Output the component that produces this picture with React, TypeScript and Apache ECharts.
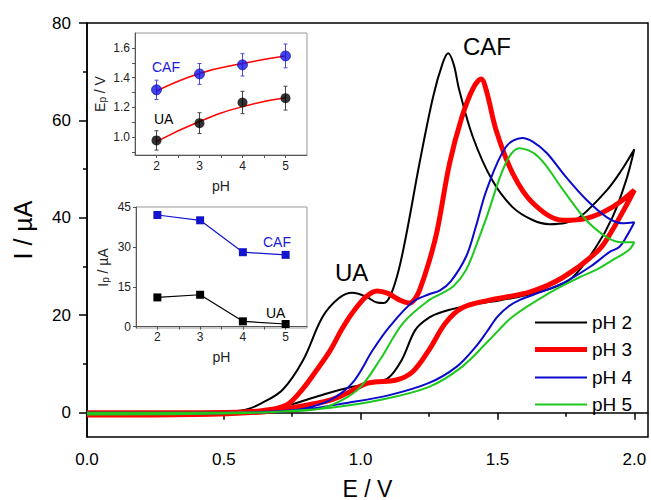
import { useEffect, useRef } from 'react';
import * as echarts from 'echarts';

// ---------- main CV data: [E / V, I / µA], forward scan then reverse scan ----------
const cvPH2: number[][] = [
  [0, 0], [0.3, 0.1], [0.5, 0.2], [0.58, 0.6], [0.64, 2], [0.715, 4.7], [0.79, 10.8], [0.86, 19.6],
  [0.92, 23.5], [0.97, 24.6], [1.02, 23.8], [1.06, 22.6], [1.085, 22.5], [1.11, 24.2], [1.14, 29.5],
  [1.17, 37.5], [1.215, 51.2], [1.265, 64.9], [1.30, 71.8], [1.32, 73.8], [1.34, 71.5], [1.36, 66.3],
  [1.41, 56.6], [1.48, 47.8], [1.555, 42.2], [1.63, 39.5], [1.69, 38.7], [1.75, 39], [1.80, 40.1],
  [1.90, 45.7], [1.95, 49.5], [2.0, 54.1],
  [1.97, 47.7], [1.92, 40.1], [1.86, 34], [1.775, 27.8], [1.70, 25.6], [1.58, 23.8], [1.48, 22.8],
  [1.40, 22.1], [1.30, 20.7], [1.25, 19.5], [1.20, 17], [1.15, 10.8], [1.10, 7.1], [1.03, 6],
  [0.97, 5.3], [0.88, 4], [0.80, 2.6], [0.74, 1.6], [0.65, 0.4], [0.55, 0], [0.3, -0.2], [0, -0.3]
];
const cvPH3: number[][] = [
  [0, 0], [0.3, 0], [0.55, 0.1], [0.65, 0.5], [0.73, 1.6], [0.79, 5], [0.84, 8.8], [0.89, 12.9],
  [0.93, 17], [0.97, 20.5], [1.02, 23.8], [1.06, 25], [1.10, 24.5], [1.14, 23.2], [1.18, 22.5],
  [1.20, 23.5], [1.215, 25.1], [1.25, 31], [1.28, 37.5], [1.325, 51.2], [1.37, 60.7], [1.41, 66.5],
  [1.44, 68.5], [1.46, 66], [1.495, 58], [1.555, 49.2], [1.63, 43], [1.74, 39.5], [1.825, 39.9],
  [1.92, 42.2], [2.0, 45.7],
  [1.975, 43], [1.92, 37.5], [1.87, 33.4], [1.74, 27.8], [1.62, 24.8], [1.47, 23.1], [1.37, 21.5],
  [1.31, 18.4], [1.25, 12.9], [1.19, 8.4], [1.13, 6.7], [1.03, 6.1], [0.95, 4], [0.89, 2.6],
  [0.77, 1.2], [0.65, 0.2], [0.4, -0.4], [0, -0.5]
];
const cvPH4: number[][] = [
  [0, 0], [0.5, 0], [0.7, 0.3], [0.8, 0.9], [0.89, 2.6], [0.97, 6.1], [1.045, 12.9], [1.105, 17.6],
  [1.19, 22.7], [1.25, 24.3], [1.29, 25.1], [1.33, 27], [1.385, 32], [1.42, 38], [1.46, 45.7],
  [1.53, 54.5], [1.59, 56.4], [1.63, 55.6], [1.68, 53.3], [1.75, 48.4], [1.825, 43.7], [1.90, 40.1],
  [1.955, 38.9], [2.0, 39.1],
  [1.975, 36.5], [1.945, 34], [1.91, 33], [1.84, 30], [1.74, 26.6], [1.66, 24.8], [1.58, 23.1],
  [1.54, 21.8], [1.50, 19.7], [1.46, 16.5], [1.42, 13.5], [1.35, 9.4], [1.25, 6.1], [1.105, 3.6],
  [0.95, 2], [0.77, 0.5], [0.6, 0], [0, -0.3]
];
const cvPH5: number[][] = [
  [0, 0], [0.5, 0], [0.7, 0.2], [0.85, 0.8], [0.93, 2.5], [1.0, 5.3], [1.07, 10.8], [1.155, 18.4],
  [1.25, 23.1], [1.30, 24.6], [1.34, 26], [1.385, 29.3], [1.42, 34], [1.46, 40.1], [1.53, 51.2],
  [1.58, 54.3], [1.65, 52.5], [1.74, 45.7], [1.825, 39.5], [1.90, 36], [1.955, 35], [2.0, 35],
  [1.98, 33.4], [1.92, 31.3], [1.86, 29.3], [1.80, 27.8], [1.69, 24.6], [1.555, 19.7], [1.47, 14.9],
  [1.37, 9.4], [1.25, 5.3], [1.07, 2.6], [0.89, 1.0], [0.7, 0.2], [0.5, -0.2], [0, -0.4]
];
const seriesNames = ['pH 2', 'pH 3', 'pH 4', 'pH 5'];

// ---------- inset data ----------
const pHValues = [2, 3, 4, 5];
const epCAF = [1.318, 1.425, 1.486, 1.546];
const epUA = [0.978, 1.094, 1.233, 1.262];
const epErr = [0.065, 0.07, 0.075, 0.08];
const epFitCAF = [1.31, 1.428, 1.495, 1.545];
const epFitUA = [0.97, 1.105, 1.205, 1.265];
const ipCAF = [42, 40, 28, 27];
const ipUA = [11, 12, 2, 1];

// ---------- tick values ----------
const mainXTicks = [0, 0.5, 1, 1.5, 2];
const mainXMinor = [0.25, 0.75, 1.25, 1.75];
const mainYTicks = [0, 20, 40, 60, 80];
const mainYMinor = [10, 30, 50, 70];
const epTicks = [1.0, 1.2, 1.4, 1.6];
const epAllTicks = [0.9, 1.0, 1.1, 1.2, 1.3, 1.4, 1.5, 1.6];
const ipTicks = [0, 15, 30, 45];
const pHTicks = [2, 3, 4, 5];
const pHAllTicks = [2, 2.5, 3, 3.5, 4, 4.5, 5];

const FONT = '"Liberation Sans", Arial, sans-serif';

function errBar(color: string) {
  return (params: any, api: any) => {
    const x = api.value(0);
    const y = api.value(1);
    const e = api.value(2);
    const t = api.coord([x, y + e]);
    const b = api.coord([x, y - e]);
    const st = { stroke: color, lineWidth: 1 };
    return {
      type: 'group',
      children: [
        { type: 'line', shape: { x1: t[0], y1: t[1], x2: b[0], y2: b[1] }, style: st },
        { type: 'line', shape: { x1: t[0] - 2, y1: t[1], x2: t[0] + 2, y2: t[1] }, style: st },
        { type: 'line', shape: { x1: b[0] - 2, y1: b[1], x2: b[0] + 2, y2: b[1] }, style: st }
      ]
    };
  };
}

export default function App() {
  const ref = useRef<HTMLDivElement>(null);
  useEffect(() => {
    if (!ref.current) return;
    const chart = echarts.init(ref.current, null, { renderer: 'svg' });
    const colors = ['#000000', '#ff0000', '#0a0acc', '#1ec81e'];
    const widths = [2, 5, 2, 2];
    const cvData = [cvPH2, cvPH3, cvPH4, cvPH5];
    const legendTops = [313, 340, 368, 395];

    const insetAxisLabel = { color: '#222', fontSize: 12, fontFamily: FONT };
    const insetAxisLine = { lineStyle: { color: '#555', width: 1 } };
    const subRich = {
      s: { fontSize: 10, color: '#222', fontFamily: FONT, padding: [8, 0, 0, 0], verticalAlign: 'bottom', lineHeight: 10 }
    };

    const option: any = {
      animation: false,
      backgroundColor: '#fff',
      textStyle: { fontFamily: FONT },
      grid: [
        { left: 87, top: 23, right: 3, bottom: 63, outerBoundsMode: 'none', containLabel: false, show: true, borderColor: '#000', borderWidth: 1.5, backgroundColor: 'transparent' },
        { left: 135, top: 33, right: 344, bottom: 345, outerBoundsMode: 'none', containLabel: false, show: true, borderColor: '#999', borderWidth: 1, backgroundColor: '#fff' },
        { left: 136, top: 207, right: 344, bottom: 172, outerBoundsMode: 'none', containLabel: false, show: true, borderColor: '#999', borderWidth: 1, backgroundColor: '#fff' }
      ],
      xAxis: [
        {
          gridIndex: 0, type: 'value', min: 0, max: 2.05,
          name: 'E / V', nameLocation: 'middle', nameGap: 40,
          nameTextStyle: { fontSize: 23, color: '#000', fontFamily: FONT },
          axisLine: { show: true, lineStyle: { color: '#000', width: 1.5 } },
          axisTick: { show: true, inside: false, length: 7, customValues: mainXTicks, lineStyle: { color: '#000', width: 1.5 } },
          axisLabel: { customValues: mainXTicks, formatter: (v: number) => v.toFixed(1), fontSize: 17, color: '#000', margin: 14, fontFamily: FONT },
          splitLine: { show: false }
        },
        {
          gridIndex: 0, type: 'value', min: 0, max: 2.05, position: 'bottom',
          axisLine: { show: false },
          axisTick: { show: true, inside: false, length: 4, customValues: mainXMinor, lineStyle: { color: '#000', width: 1.5 } },
          axisLabel: { show: false }, splitLine: { show: false }
        },
        {
          gridIndex: 1, type: 'value', min: 1.5, max: 5.5,
          name: 'pH', nameLocation: 'middle', nameGap: 24,
          nameTextStyle: { fontSize: 14, color: '#222', fontFamily: FONT },
          axisLine: insetAxisLine,
          axisTick: { show: true, inside: false, length: 3, customValues: pHAllTicks, lineStyle: { color: '#555' } },
          axisLabel: { ...insetAxisLabel, customValues: pHTicks, margin: 5 },
          splitLine: { show: false }
        },
        {
          gridIndex: 2, type: 'value', min: 1.5, max: 5.5,
          name: 'pH', nameLocation: 'middle', nameGap: 22,
          nameTextStyle: { fontSize: 14, color: '#222', fontFamily: FONT },
          axisLine: insetAxisLine,
          axisTick: { show: true, inside: false, length: 3, customValues: pHAllTicks, lineStyle: { color: '#555' } },
          axisLabel: { ...insetAxisLabel, customValues: pHTicks, margin: 3 },
          splitLine: { show: false }
        }
      ],
      yAxis: [
        {
          gridIndex: 0, type: 'value', min: -5, max: 80,
          name: 'I / µA', nameLocation: 'middle', nameGap: 52,
          nameTextStyle: { fontSize: 25, color: '#000', fontFamily: FONT },
          axisLine: { show: true, lineStyle: { color: '#000', width: 1.5 } },
          axisTick: { show: true, inside: false, length: 8, customValues: mainYTicks, lineStyle: { color: '#000', width: 1.5 } },
          axisLabel: { customValues: mainYTicks, fontSize: 17, color: '#000', margin: 16, fontFamily: FONT },
          splitLine: { show: false }
        },
        {
          gridIndex: 0, type: 'value', min: -5, max: 80, position: 'left',
          axisLine: { show: false },
          axisTick: { show: true, inside: false, length: 4, customValues: mainYMinor, lineStyle: { color: '#000', width: 1.5 } },
          axisLabel: { show: false }, splitLine: { show: false }
        },
        {
          gridIndex: 1, type: 'value', min: 0.88, max: 1.7,
          name: 'E{s|p} / V', nameLocation: 'middle', nameGap: 28,
          nameTextStyle: { fontSize: 14, color: '#222', fontFamily: FONT, rich: subRich },
          axisLine: insetAxisLine,
          axisTick: { show: true, inside: false, length: 3, customValues: epAllTicks, lineStyle: { color: '#555' } },
          axisLabel: { ...insetAxisLabel, customValues: epTicks, formatter: (v: number) => v.toFixed(1), margin: 5 },
          splitLine: { show: false }
        },
        {
          gridIndex: 2, type: 'value', min: -0.5, max: 45,
          name: 'I{s|p} / µA', nameLocation: 'middle', nameGap: 26,
          nameTextStyle: { fontSize: 14, color: '#222', fontFamily: FONT, rich: subRich },
          axisLine: insetAxisLine,
          axisTick: { show: true, inside: false, length: 3, customValues: ipTicks, lineStyle: { color: '#555' } },
          axisLabel: { ...insetAxisLabel, customValues: ipTicks, margin: 5 },
          splitLine: { show: false }
        }
      ],
      legend: seriesNames.map((n, i) => ({
        data: [n], left: 535, top: legendTops[i], orient: 'vertical', padding: 0,
        icon: 'rect', itemWidth: 52, itemHeight: widths[i] === 5 ? 5 : 2,
        textStyle: { fontSize: 19, color: '#000', fontFamily: FONT },
        selectedMode: false
      })),
      series: [
        ...cvData.map((d, i) => ({
          name: seriesNames[i], type: 'line', xAxisIndex: 0, yAxisIndex: 0,
          data: d, smooth: 0.35, showSymbol: false, symbol: 'none',
          lineStyle: { color: colors[i], width: widths[i] }, itemStyle: { color: colors[i] },
          z: 2 + i
        })),
        {
          type: 'line', xAxisIndex: 2, yAxisIndex: 2, data: pHValues.map((p, i) => [p, epFitCAF[i]]),
          smooth: true, showSymbol: false, lineStyle: { color: '#ff0000', width: 1.5 }, z: 5
        },
        {
          type: 'line', xAxisIndex: 2, yAxisIndex: 2, data: pHValues.map((p, i) => [p, epFitUA[i]]),
          smooth: true, showSymbol: false, lineStyle: { color: '#ff0000', width: 1.5 }, z: 5
        },
        {
          type: 'custom', xAxisIndex: 2, yAxisIndex: 2, renderItem: errBar('#4a4ae0'),
          data: pHValues.map((p, i) => [p, epCAF[i], epErr[i]]), z: 6
        },
        {
          type: 'custom', xAxisIndex: 2, yAxisIndex: 2, renderItem: errBar('#444'),
          data: pHValues.map((p, i) => [p, epUA[i], epErr[i]]), z: 6
        },
        {
          type: 'scatter', xAxisIndex: 2, yAxisIndex: 2, symbol: 'circle', symbolSize: 10,
          data: pHValues.map((p, i) => [p, epCAF[i]]),
          itemStyle: { color: '#1414e6', borderColor: '#0a0a99', borderWidth: 0.8 }, z: 7
        },
        {
          type: 'scatter', xAxisIndex: 2, yAxisIndex: 2, symbol: 'circle', symbolSize: 10,
          data: pHValues.map((p, i) => [p, epUA[i]]),
          itemStyle: { color: '#000' }, z: 7
        },
        {
          type: 'line', xAxisIndex: 3, yAxisIndex: 3, data: pHValues.map((p, i) => [p, ipCAF[i]]),
          symbol: 'rect', symbolSize: 8, showSymbol: true,
          lineStyle: { color: '#1414cc', width: 1.2 }, itemStyle: { color: '#1414cc' }, z: 5
        },
        {
          type: 'line', xAxisIndex: 3, yAxisIndex: 3, data: pHValues.map((p, i) => [p, ipUA[i]]),
          symbol: 'rect', symbolSize: 8, showSymbol: true,
          lineStyle: { color: '#000', width: 1.2 }, itemStyle: { color: '#000' }, z: 5
        }
      ],
      graphic: [
        { type: 'text', left: 463, top: 34, z: 20, style: { text: 'CAF', fontSize: 24, fill: '#000', fontFamily: FONT } },
        { type: 'text', left: 335, top: 260, z: 20, style: { text: 'UA', fontSize: 24, fill: '#000', fontFamily: FONT } },
        { type: 'text', left: 152, top: 60, z: 20, style: { text: 'CAF', fontSize: 14, fill: '#1a1ad8', fontFamily: FONT } },
        { type: 'text', left: 154, top: 112, z: 20, style: { text: 'UA', fontSize: 14, fill: '#000', fontFamily: FONT } },
        { type: 'text', left: 263, top: 235, z: 20, style: { text: 'CAF', fontSize: 14, fill: '#1a1ad8', fontFamily: FONT } },
        { type: 'text', left: 266, top: 306, z: 20, style: { text: 'UA', fontSize: 14, fill: '#000', fontFamily: FONT } }
      ]
    };
    chart.setOption(option);
    return () => chart.dispose();
  }, []);
  return <div ref={ref} style={{ position: 'fixed', left: 0, top: 0, width: 651, height: 500, background: '#fff' }} />;
}
